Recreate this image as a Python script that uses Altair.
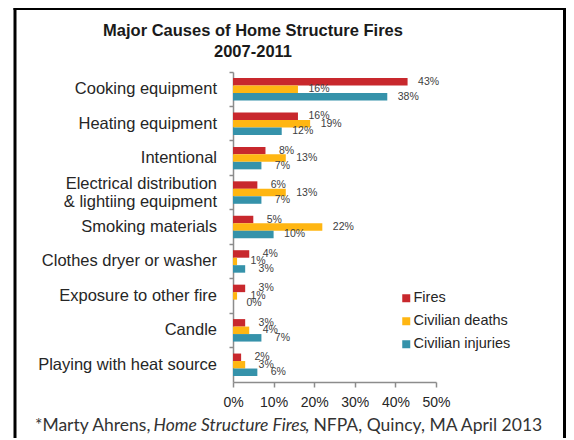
import altair as alt
import pandas as pd

categories = [
    "Cooking equipment",
    "Heating equipment",
    "Intentional",
    "Electrical distribution\n& lightiing equipment",
    "Smoking materials",
    "Clothes dryer or washer",
    "Exposure to other fire",
    "Candle",
    "Playing with heat source",
]
series = ["Fires", "Civilian deaths", "Civilian injuries"]
fires = [43, 16, 8, 6, 5, 4, 3, 3, 2]
deaths = [16, 19, 13, 13, 22, 1, 1, 4, 3]
injuries = [38, 12, 7, 7, 10, 3, 0, 7, 6]
colors = ["#C8282D", "#FFB612", "#3592AA"]
x_ticks = [0, 10, 20, 30, 40, 50]

title_lines = ["Major Causes of Home Structure Fires", "2007-2011"]
foot_parts = ["*Marty Ahrens, ", "Home Structure Fires", ", NFPA, Quincy, MA April 2013"]

rows = []
for s, vals in zip(series, [fires, deaths, injuries]):
    for c, v in zip(categories, vals):
        rows.append({"category": c, "series": s, "value": v, "label": f"{v}%"})
df = pd.DataFrame(rows)
cat_df = pd.DataFrame({"category": categories, "lines": [len(c.split("\n")) for c in categories]})

FONT = "Liberation Sans"
TXT = "#262626"
AX = "#8C8C8C"

yenc = alt.Y(
    "category:N",
    sort=categories,
    scale=alt.Scale(paddingInner=0, paddingOuter=0),
    axis=alt.Axis(
        title=None,
        bandPosition=0,
        labels=False,
        tickSize=4,
        tickColor=AX,
        domainColor=AX,
        domainWidth=1.5,
        tickWidth=1.5,
    ),
)

base = alt.Chart(df).encode(
    y=yenc,
    yOffset=alt.YOffset(
        "series:N", sort=series, scale=alt.Scale(paddingInner=0, paddingOuter=0.8)
    ),
)

bars = base.mark_bar().encode(
    x=alt.X(
        "value:Q",
        scale=alt.Scale(domain=[0, 50], nice=False),
        axis=alt.Axis(
            title=None,
            values=x_ticks,
            labelExpr="datum.value + '%'",
            labelFont=FONT,
            labelFontSize=14,
            labelColor=TXT,
            labelPadding=8,
            labelOverlap=False,
            labelFlush=False,
            tickSize=5,
            tickColor=AX,
            tickWidth=1.5,
            domainColor=AX,
            domainWidth=1.5,
            grid=False,
        ),
    ),
    color=alt.Color(
        "series:N",
        sort=series,
        scale=alt.Scale(domain=series, range=colors),
        legend=alt.Legend(
            orient="none",
            legendX=166,
            legendY=219,
            title=None,
            symbolType="square",
            symbolSize=64,
            symbolStrokeWidth=0,
            labelFont=FONT,
            labelFontSize=14.5,
            labelColor=TXT,
            labelOffset=0,
            rowPadding=8,
            padding=0,
        ),
    ),
)

labels = base.mark_text(
    align="center", baseline="middle", dx=21, font=FONT, fontSize=10.5, color="#404040"
).encode(x=alt.X("value:Q"), text="label:N")

cat_single = alt.Chart(cat_df).transform_filter("datum.lines == 1").mark_text(
    align="right", baseline="middle", font=FONT, fontSize=16.5, color=TXT
).encode(x=alt.value(-16), y=alt.Y("category:N", sort=categories), text="category:N")

cat_multi = alt.Chart(cat_df).transform_filter("datum.lines > 1").transform_calculate(
    parts="split(datum.category, '\\n')"
).mark_text(
    align="right", baseline="middle", font=FONT, fontSize=16.5, color=TXT, lineHeight=18, dy=-9
).encode(x=alt.value(-16), y=alt.Y("category:N", sort=categories), text="parts:N")

one = pd.DataFrame({"a": [0]})

title1 = alt.Chart(pd.DataFrame({"t": [title_lines[0]]})).mark_text(
    align="center", baseline="alphabetic", font=FONT, fontSize=16.5, fontWeight="bold", color="#1A1A1A"
).encode(x=alt.value(20), y=alt.value(-36), text="t:N")
title2 = alt.Chart(pd.DataFrame({"t": [title_lines[1]]})).mark_text(
    align="center", baseline="alphabetic", font=FONT, fontSize=16.5, fontWeight="bold", color="#1A1A1A"
).encode(x=alt.value(20), y=alt.value(-15), text="t:N")

foot_x = [-198, -79.5, 72]
foot_styles = ["normal", "italic", "normal"]
foots = []
for part, fx, st in zip(foot_parts, foot_x, foot_styles):
    foots.append(
        alt.Chart(pd.DataFrame({"t": [part]})).mark_text(
            align="left", baseline="alphabetic", font="Lato", fontSize=17.5, fontStyle=st, color="#333333"
        ).encode(x=alt.value(fx), y=alt.value(359), text="t:N")
    )

border_left = alt.Chart(one).mark_rule(color="black", strokeWidth=3).encode(
    x=alt.value(-218), y=alt.value(-64), y2=alt.value(370)
)
border_top = alt.Chart(one).mark_rule(color="black", strokeWidth=3).encode(
    x=alt.value(-219.5), x2=alt.value(335), y=alt.value(-63.5)
)
border_right = alt.Chart(one).mark_rule(color="black", strokeWidth=3).encode(
    x=alt.value(331.5), y=alt.value(-64), y2=alt.value(370)
)

chart = alt.layer(
    bars, labels, cat_single, cat_multi, title1, title2, *foots,
    border_left, border_top, border_right
).properties(
    width=203,
    height=310,
    autosize=alt.AutoSizeParams(type="none"),
    padding={"left": 225, "top": 64, "right": 130, "bottom": 56},
    background="white",
).configure_view(stroke=None)

chart.save("out.html", embed_options={"renderer": "svg", "actions": False})
